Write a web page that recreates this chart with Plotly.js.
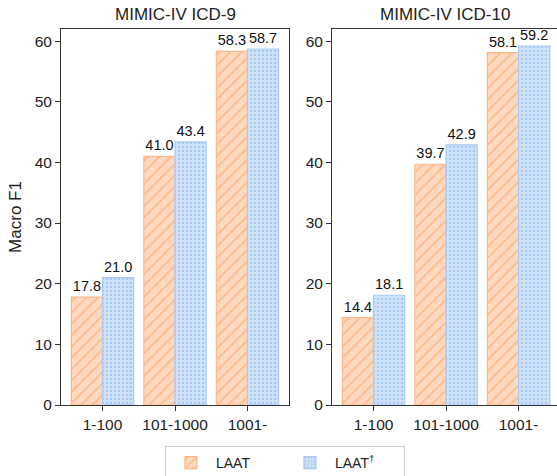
<!DOCTYPE html>
<html>
<head>
<meta charset="utf-8">
<script src="https://cdn.plot.ly/plotly-3.0.1.min.js"></script>
<style>html,body{margin:0;padding:0;background:#fff;}#chart{width:557px;height:476px;}</style>
</head>
<body>
<div id="chart"></div>
<script>
const categories = ["1-100", "101-1000", "1001-"];
const icd9_laat = [17.8, 41.0, 58.3];
const icd9_laat_dagger = [21.0, 43.4, 58.7];
const icd10_laat = [14.4, 39.7, 58.1];
const icd10_laat_dagger = [18.1, 42.9, 59.2];
const panelTitles = ["MIMIC-IV ICD-9", "MIMIC-IV ICD-10"];
const seriesNames = ["LAAT", "LAAT<sup>†</sup>"];

const FONT = "Liberation Sans, Arial, sans-serif";
const orange = {line: "#ffb686", fill: "#ffd9bf", fg: "#ffb98a"};
const blue = {line: "#a9cbf3", fill: "#d0e3fa", fg: "#a9c9f2"};

function mk(vals, name, c, shape, xa, ya, showlegend, psize, sol) {
  return {
    type: "bar", x: categories, y: vals, name: name, xaxis: xa, yaxis: ya,
    legendgroup: name, showlegend: showlegend,
    texttemplate: "%{y:.1f}", textposition: "outside", cliponaxis: false,
    textfont: {family: FONT, size: 14.5, color: "#111"},
    marker: {color: c.fill, line: {color: c.line, width: 1.2},
      pattern: {shape: shape, fgcolor: c.fg, bgcolor: c.fill, size: psize, solidity: sol, fillmode: "replace"}},
    hoverinfo: "skip"
  };
}

const data = [
  mk(icd9_laat, seriesNames[0], orange, "/", "x", "y", true, 8, 0.22),
  mk(icd9_laat_dagger, seriesNames[1], blue, ".", "x", "y", true, 4, 0.32),
  mk(icd10_laat, seriesNames[0], orange, "/", "x2", "y2", false, 8, 0.22),
  mk(icd10_laat_dagger, seriesNames[1], blue, ".", "x2", "y2", false, 4, 0.32)
];

const axisCommon = {
  showgrid: false, zeroline: false, showline: true, linecolor: "#333", linewidth: 1,
  ticks: "outside", ticklen: 5, tickcolor: "#333",
  tickfont: {family: FONT, size: 15.5, color: "#222"}
};

const layout = {
  width: 557, height: 476,
  margin: {l: 61, r: 0, t: 29, b: 71, pad: 0, autoexpand: false},
  paper_bgcolor: "#fff", plot_bgcolor: "#fff",
  barmode: "group", bargap: 0.14, bargroupgap: 0,
  font: {family: FONT},
  xaxis: Object.assign({}, axisCommon, {domain: [0, 0.4597], range: [-0.573, 2.573], mirror: true, type: "category", automargin: false}),
  yaxis: Object.assign({}, axisCommon, {domain: [0, 1], range: [0, 62], mirror: true, tickvals: [0,10,20,30,40,50,60], automargin: false,
    title: {text: "Macro F1", font: {family: FONT, size: 17, color: "#222"}, standoff: 8}}),
  xaxis2: Object.assign({}, axisCommon, {domain: [0.5464, 1], range: [-0.573, 2.53], mirror: true, anchor: "y2", type: "category", automargin: false}),
  yaxis2: Object.assign({}, axisCommon, {domain: [0, 1], range: [0, 62], mirror: false, anchor: "x2", tickvals: [0,10,20,30,40,50,60], automargin: false}),
  showlegend: true,
  legend: {orientation: "h", x: 0.4516, xanchor: "center", y: -0.109, yanchor: "top",
    bordercolor: "#cccccc", borderwidth: 1, font: {family: FONT, size: 14, color: "#222"},
    itemwidth: 40, entrywidth: 64, traceorder: "normal"},
  annotations: [
    {text: panelTitles[0], xref: "x domain", yref: "paper", x: 0.5, y: 1, yshift: 3, xanchor: "center", yanchor: "bottom", showarrow: false, font: {family: FONT, size: 17, color: "#222"}},
    {text: panelTitles[1], xref: "x2 domain", yref: "paper", x: 0.5, y: 1, yshift: 3, xanchor: "center", yanchor: "bottom", showarrow: false, font: {family: FONT, size: 17, color: "#222"}}
  ]
};

Plotly.newPlot("chart", data, layout, {staticPlot: true, displayModeBar: false});
</script>
</body>
</html>
